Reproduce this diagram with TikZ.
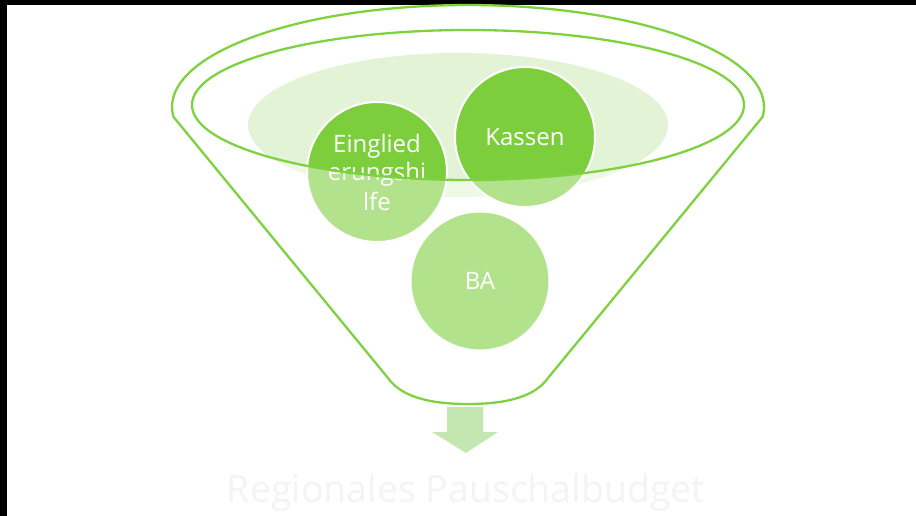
\documentclass[tikz,border=0pt]{standalone}
\usepackage{tikz}
\usepackage{xcolor}
\usepackage{fontspec}
\setmainfont{Open Sans}
\definecolor{mygreen}{HTML}{7DCE3C}
\definecolor{myline}{HTML}{7ED23F}
\definecolor{mypale}{HTML}{E2F3D6}
\definecolor{myarrow}{HTML}{C4E7B2}
\definecolor{mytext}{HTML}{F4F4F4}

\begin{document}
\begin{tikzpicture}[x=1pt, y=-1pt]
    \useasboundingbox (0, 0) rectangle (916, 516);
    \fill[white] (0, 0) rectangle (916, 516);
    \fill[black] (0, 0) rectangle (916, 5);
    \fill[black] (0, 0) rectangle (7, 516);
    % back of the funnel
    \fill[mypale] (458, 125) ellipse [x radius=210, y radius=72];
    \node[circle, minimum size=140pt, inner sep=0pt, draw=white, line width=2pt, fill=mygreen, text=white, align=center, font=\fontsize{24}{29}\selectfont] (1) at (377, 172) {Einglied\\erungshi\\lfe};
    \node[circle, minimum size=140pt, inner sep=0pt, draw=white, line width=2pt, fill=mygreen, text=white, font=\fontsize{24}{29}\selectfont] (2) at (525, 137) {Kassen};
    \node[circle, minimum size=139pt, inner sep=0pt, draw=white, line width=2pt, fill=mygreen, text=white, font=\fontsize{24}{29}\selectfont] (3) at (480, 281) {BA};
    % front of the funnel
    \fill[white, opacity=0.42, even odd rule] (173.1, 117) arc [start angle=174.5, end angle=365.5, x radius=296, y radius=102]
        -- (548, 378) .. controls (536, 395) and (511, 404) .. (468, 404)
        .. controls (425, 404) and (400, 395) .. (388, 378) -- cycle
        (468, 105) ellipse [x radius=276, y radius=75];
    \draw[myline, line width=2.3pt, line join=round] (173.4, 116.8) arc [start angle=174.5, end angle=365.5, x radius=296, y radius=102]
        -- (548, 378) .. controls (536, 395) and (511, 404) .. (468, 404)
        .. controls (425, 404) and (400, 395) .. (388, 378) -- cycle;
    \draw[myline, line width=2.3pt] (468, 105) ellipse [x radius=276, y radius=75];
    \fill[myarrow] (447, 407) -- (483, 407) -- (483, 432) -- (498, 432) -- (466, 453) -- (432, 432) -- (447, 432) -- cycle;
    \node[text=mytext, font=\fontsize{37.5}{42}\selectfont, anchor=base] (4) at (466, 502) {Regionales Pauschalbudget};
\end{tikzpicture}
\end{document}
